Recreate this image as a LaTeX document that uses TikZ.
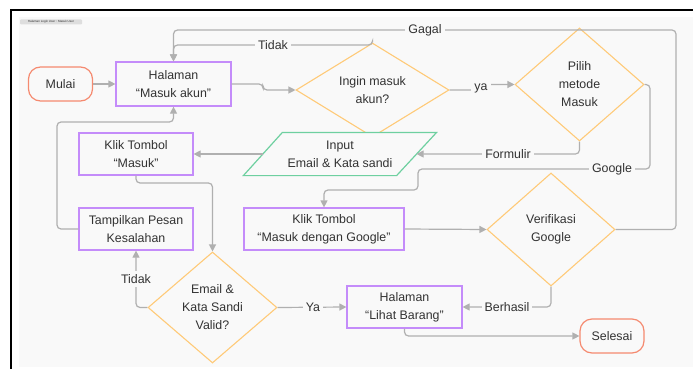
\documentclass[tikz,border=0pt]{standalone}
\usepackage{fontspec}
\setmainfont{Liberation Sans}
\usetikzlibrary{shapes.geometric,arrows.meta,calc}
\definecolor{bgc}{RGB}{249,249,249}
\definecolor{txt}{RGB}{50,50,50}
\definecolor{termc}{RGB}{245,138,112}
\definecolor{procc}{RGB}{196,140,250}
\definecolor{decc}{RGB}{255,202,120}
\definecolor{ioc}{RGB}{110,208,160}
\definecolor{connc}{RGB}{176,176,176}
\tikzset{
  base/.style={text=txt, align=center, inner sep=0pt, line width=1.2pt, fill=bgc},
  term/.style={base, draw=termc, rounded corners=12pt, minimum width=64pt, minimum height=34pt},
  proc/.style={base, draw=procc, minimum width=115pt, minimum height=42pt},
  dec/.style={base, draw=decc, diamond, line width=1.1pt},
  iobox/.style={base, draw=none, fill=none, minimum width=192pt, minimum height=42pt},
  conn/.style={draw=connc, line width=1.2pt, rounded corners=4pt, -{Triangle[length=7pt,width=7pt]}},
  lbl/.style={fill=bgc, text=txt, inner sep=3pt}
}
\begin{document}
\begin{tikzpicture}[x=1pt,y=-1pt, font=\fontsize{12.4}{18}\selectfont]
\useasboundingbox (0,0) rectangle (693,369);
\fill[white] (0,0) rectangle (693,369);
\fill[bgc] (19,17) rectangle (693,367);
\draw[black,line width=2pt] (10.5,369) -- (10.5,10.5) -- (693,10.5);
\node[fill={rgb,255:red,222;green,222;blue,222}, rounded corners=1pt, inner sep=0pt,
  minimum width=62pt, minimum height=5pt, font=\fontsize{3}{3}\selectfont, text=txt]
  (title) at (51,22) {Halaman Login User : Masuk User};

% nodes
\node[term] (mulai) at (60.5,84) {Mulai};
\node[proc, minimum height=44pt] (halaman) at (173.5,84) {Halaman\\“Masuk akun”};
\node[dec, minimum width=153pt, minimum height=78pt] (ingin) at (372.5,90) {Ingin masuk\\akun?};
\node[dec, minimum width=129pt, minimum height=113pt] (pilih) at (579.5,84.5) {Pilih\\metode\\Masuk};
\node[iobox] (input) at (340,154) {};
\draw[draw=ioc, line width=1.2pt, fill=bgc]
  ($(input.north west)+(39,0)$) -- (input.north east) -- ($(input.south east)+(-40,0)$)
  -- (input.south west) -- cycle;
\node[text=txt, align=center] at (input) {Input\\Email \& Kata sandi};
\coordinate (inputR) at ($(input.east)+(-20,0)$);
\coordinate (inputL) at ($(input.west)+(20,0)$);
\node[proc, minimum width=114pt] (klikmasuk) at (136,154) {Klik Tombol\\“Masuk”};
\node[proc, minimum width=114pt] (tampil) at (136,229) {Tampilkan Pesan\\Kesalahan};
\node[proc, minimum width=160pt] (klikgoogle) at (324,229) {Klik Tombol\\“Masuk dengan Google”};
\node[dec, minimum width=128pt, minimum height=113pt] (verif) at (551,229.5) {Verifikasi\\Google};
\node[dec, minimum width=129pt, minimum height=111pt] (valid) at (212.5,307.5) {Email \&\\Kata Sandi\\Valid?};
\node[proc] (lihat) at (404.5,307) {Halaman\\“Lihat Barang”};
\node[term] (selesai) at (612,336) {Selesai};

% bend coordinates
\coordinate (b1) at (263,84);
\coordinate (t1) at (372.5,45);
\coordinate (y1) at (482,90);
\coordinate (g1) at (676,30);
\coordinate (go1) at (650,169);
\coordinate (go2) at (418,190);
\coordinate (k1) at (136,183);
\coordinate (e1) at (57,229);
\coordinate (e2) at (173.5,122);

% connectors
\draw[conn] (mulai) -- (halaman);
\draw[conn] (halaman.east) -- (b1) |- (ingin.west);
\draw[conn] (ingin.north) -- (t1) -| (halaman.north);
\draw[conn] (verif.east) -| (g1) -| (halaman.north);
\draw[conn] (ingin.east) -- (y1) |- (pilih.west);
\draw[conn] (pilih.south) |- (inputR);
\draw[conn] (pilih.east) -| (go1) -| (go2) -| (klikgoogle.north);
\draw[conn] (inputL) -- (klikmasuk.east);
\draw[conn] (klikmasuk.south) -- (k1) -| (valid.north);
\draw[conn] (valid.west) -| (tampil.south);
\draw[conn] (tampil.west) -- (e1) |- (e2) -- (halaman.south);
\draw[conn] (valid.east) -- (lihat.west);
\draw[conn] (verif.south) |- (lihat.east);
\draw[conn] (lihat.south) |- (selesai.west);
\draw[conn] (klikgoogle.east) -- (verif.west);

% labels
\node[lbl] (lt1) at (273,45) {Tidak};
\node[lbl] (lg) at (425,30) {Gagal};
\node[lbl] (ly) at (481,88) {ya};
\node[lbl] (lf) at (508,154) {Formulir};
\node[lbl] (lgo) at (612,169) {Google};
\node[lbl] (lt2) at (136,279) {Tidak};
\node[lbl] (lya) at (313,307) {Ya};
\node[lbl] (lb) at (507,307) {Berhasil};
\end{tikzpicture}
\end{document}
